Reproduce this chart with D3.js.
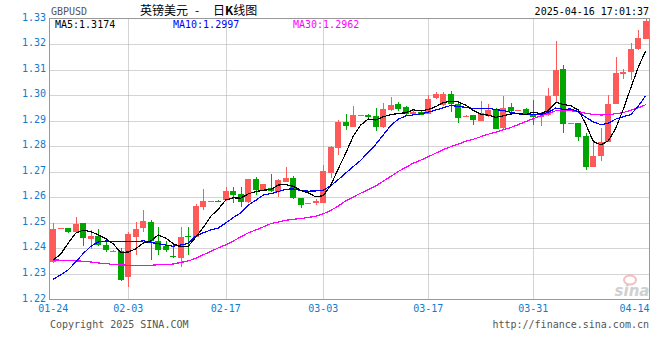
<!DOCTYPE html>
<html>
<head>
<meta charset="utf-8">
<script src="https://cdn.jsdelivr.net/npm/d3@7"></script>
<style>
  body { margin: 0; background: #fff; }
  svg text { font-family: "DejaVu Sans Mono", "Liberation Mono", monospace; font-size: 10px; }
</style>
</head>
<body>
<div id="chart"></div>
<script>
// daily OHLC, 01-24 .. 04-16
var opens = [1.2348,1.2478,1.2480,1.2464,1.2498,1.2438,1.2449,1.2414,1.2390,1.2389,
  1.2290,1.2446,1.2479,1.2505,1.2429,1.2409,1.2370,1.2364,1.2447,1.2446,
  1.2562,1.2585,1.2587,1.2589,1.2626,1.2612,1.2583,1.2670,1.2629,1.2635,
  1.2622,1.2661,1.2674,1.2598,1.2576,1.2577,1.2579,1.2696,1.2793,1.2895,
  1.2876,1.2920,1.2921,1.2919,1.2876,1.2941,1.2965,1.2952,1.2928,1.2934,
  1.2928,1.2987,1.2961,1.3004,1.2967,1.2919,1.2921,1.2900,1.2918,1.2944,
  1.2870,1.2954,1.2939,1.2944,1.2928,1.2916,1.2921,1.2996,1.3104,1.2888,
  1.2889,1.2839,1.2720,1.2761,1.2817,1.2967,1.3082,1.3091,1.3182,1.3221];
var highs = [1.2501,1.2480,1.2481,1.2523,1.2499,1.2472,1.2477,1.2440,1.2392,1.2401,
  1.2466,1.2502,1.2549,1.2512,1.2485,1.2429,1.2419,1.2482,1.2485,1.2573,
  1.2631,1.2587,1.2591,1.2640,1.2639,1.2641,1.2673,1.2678,1.2654,1.2691,
  1.2671,1.2720,1.2683,1.2599,1.2578,1.2593,1.2726,1.2800,1.2902,1.2928,
  1.2957,1.2922,1.2925,1.2950,1.2970,1.2993,1.2973,1.2958,1.2941,1.2937,
  1.3002,1.3012,1.3012,1.3016,1.2972,1.2921,1.2923,1.2977,1.2967,1.2950,
  1.2996,1.2970,1.2941,1.2948,1.2980,1.2934,1.3026,1.3211,1.3117,1.2890,
  1.2890,1.2850,1.2817,1.2870,1.3000,1.3149,1.3104,1.3204,1.3254,1.3300];
var lows = [1.2343,1.2477,1.2462,1.2463,1.2411,1.2398,1.2410,1.2384,1.2389,1.2271,
  1.2247,1.2375,1.2466,1.2355,1.2375,1.2386,1.2364,1.2329,1.2375,1.2443,
  1.2550,1.2584,1.2581,1.2586,1.2579,1.2563,1.2578,1.2609,1.2627,1.2619,
  1.2602,1.2660,1.2593,1.2558,1.2575,1.2570,1.2576,1.2677,1.2765,1.2863,
  1.2875,1.2919,1.2910,1.2859,1.2873,1.2937,1.2937,1.2921,1.2921,1.2921,
  1.2925,1.2986,1.2957,1.2934,1.2889,1.2918,1.2885,1.2898,1.2914,1.2866,
  1.2867,1.2933,1.2938,1.2922,1.2882,1.2878,1.2918,1.2970,1.2852,1.2887,
  1.2821,1.2707,1.2718,1.2742,1.2816,1.2964,1.3065,1.3061,1.3175,1.3218];
var closes = [1.2476,1.2479,1.2466,1.2496,1.2440,1.2449,1.2414,1.2393,1.2391,1.2275,
  1.2457,1.2476,1.2507,1.2429,1.2394,1.2395,1.2366,1.2446,1.2444,1.2567,
  1.2586,1.2586,1.2585,1.2624,1.2609,1.2580,1.2670,1.2629,1.2651,1.2623,
  1.2668,1.2677,1.2597,1.2570,1.2577,1.2586,1.2703,1.2798,1.2895,1.2880,
  1.2921,1.2921,1.2915,1.2875,1.2945,1.2961,1.2945,1.2928,1.2934,1.2924,
  1.2986,1.3004,1.3004,1.2964,1.2911,1.2920,1.2902,1.2932,1.2943,1.2869,
  1.2950,1.2937,1.2940,1.2926,1.2915,1.2920,1.2997,1.3100,1.2887,1.2889,
  1.2837,1.2720,1.2763,1.2818,1.2966,1.3085,1.3090,1.3180,1.3225,1.3290];

// moving-average values before the window is full
var ma5Head = [1.2355,1.2378,1.2421,1.2460];
var ma10Head = [1.2279,1.2297,1.2316,1.2347,1.2380,1.2408,1.2425,1.2429,1.2427];
var ma30Head = [1.2355,1.2354,1.2352,1.2351,1.2350,1.2347,1.2343,1.2341,1.2337,1.2336,
  1.2334,1.2334,1.2334,1.2334,1.2336,1.2337,1.2339,1.2345,1.2351,1.2361,
  1.2375,1.2388,1.2402,1.2414,1.2429,1.2445,1.2461,1.2472,1.2484];

var tickLabels = ["01-24","02-03","02-17","03-03","03-17","03-31","04-14"];
var tickIndex = [0,10,23,36,50,64,78];
var yTicks = [1.22,1.23,1.24,1.25,1.26,1.27,1.28,1.29,1.30,1.31,1.32,1.33];

var W = 660, H = 360;
var plotL = 49.5, plotR = 649.5, plotT = 18.5, plotB = 299.5;
var n = closes.length;
var upColor = "#ff5a5a", downColor = "#00a600";

function movingAvg(len, head){
  return closes.map(function(c, i){
    if(i < len - 1) return head[i];
    return d3.mean(closes.slice(i - len + 1, i + 1));
  });
}
var ma5 = movingAvg(5, ma5Head);
var ma10 = movingAvg(10, ma10Head);
var ma30 = movingAvg(30, ma30Head);

var svg = d3.select("#chart").append("svg")
  .attr("width", W).attr("height", H);

var x = d3.scaleBand().domain(d3.range(n)).range([plotL, plotR])
  .paddingInner(0.2).paddingOuter(0.1);
var y = d3.scaleLinear().domain([1.22, 1.33]).range([plotB, plotT]);

// grid
var grid = svg.append("g").attr("stroke", "#a8a8a8").attr("stroke-dasharray", "1,1");
grid.selectAll("line.h").data(yTicks.slice(1, -1)).enter().append("line")
  .attr("x1", plotL).attr("x2", plotR)
  .attr("y1", function(d){ return Math.round(y(d)) + 0.5; })
  .attr("y2", function(d){ return Math.round(y(d)) + 0.5; });
grid.selectAll("line.v").data(tickIndex.slice(1, -1)).enter().append("line")
  .attr("y1", plotT).attr("y2", plotB)
  .attr("x1", function(d){ return Math.round(x(d) + x.bandwidth()/2) + 0.5; })
  .attr("x2", function(d){ return Math.round(x(d) + x.bandwidth()/2) + 0.5; });

// frame
svg.append("rect").attr("x", plotL).attr("y", plotT)
  .attr("width", plotR - plotL).attr("height", plotB - plotT)
  .attr("fill", "none").attr("stroke", "#999");

// sina mark
var logo = svg.append("g").attr("opacity", 0.55);
logo.append("ellipse").attr("cx", 630).attr("cy", 280).attr("rx", 6).attr("ry", 4.5)
  .attr("fill", "none").attr("stroke", "#f08a8a").attr("stroke-width", 2);
logo.append("text").attr("x", 632).attr("y", 296).attr("text-anchor", "middle")
  .style("font-family", "DejaVu Sans").style("font-size", "15px")
  .style("font-style", "italic").style("font-weight", "bold")
  .attr("fill", "#aaa").text("sina");

// candles
var candles = svg.append("g").selectAll("g").data(closes).enter().append("g")
  .attr("fill", function(c, i){ return c >= opens[i] ? upColor : downColor; });
candles.append("rect")
  .attr("x", function(c, i){ return Math.round(x(i)) + 3; })
  .attr("width", 1)
  .attr("y", function(c, i){ return Math.round(y(highs[i])); })
  .attr("height", function(c, i){ return Math.max(1, Math.round(y(lows[i])) - Math.round(y(highs[i]))); });
candles.append("rect")
  .attr("x", function(c, i){ return Math.round(x(i)); })
  .attr("width", 6)
  .attr("y", function(c, i){ return Math.round(y(Math.max(c, opens[i]))); })
  .attr("height", function(c, i){
    return Math.max(1, Math.round(y(Math.min(c, opens[i]))) - Math.round(y(Math.max(c, opens[i]))));
  });

// moving averages
var line = d3.line()
  .x(function(d, i){ return x(i) + x.bandwidth()/2; })
  .y(function(d){ return y(d); });
[[ma30, "#ff00ff"], [ma10, "#0000ff"], [ma5, "#000"]].forEach(function(s){
  svg.append("path").datum(s[0]).attr("d", line)
    .attr("fill", "none").attr("stroke", s[1]).attr("stroke-width", 1.2)
    .attr("shape-rendering", "crispEdges");
});

// y axis labels
svg.append("g").selectAll("text").data(yTicks).enter().append("text")
  .attr("x", 46).attr("y", function(d){ return y(d) + 2; })
  .attr("text-anchor", "end").attr("fill", "#0e7ccf")
  .text(function(d){ return d.toFixed(2); });

// x axis labels
svg.append("g").selectAll("text").data(tickIndex).enter().append("text")
  .attr("x", function(d){ return Math.min(x(d) + x.bandwidth()/2, plotR - 15); })
  .attr("y", 312).attr("text-anchor", "middle").attr("fill", "#0e7ccf")
  .text(function(d, i){ return tickLabels[i]; });

// header
svg.append("text").attr("x", 51).attr("y", 15).attr("fill", "#555").text("GBPUSD");
var title = svg.append("text").attr("y", 15).attr("fill", "#000")
  .style("font-family", "'Noto Sans CJK SC', sans-serif").style("font-size", "12px");
title.append("tspan").attr("x", 140).text("英镑美元");
title.append("tspan").attr("x", 195).text("-");
title.append("tspan").attr("x", 213).text("日");
title.append("tspan").style("font-weight", "bold").text("K");
title.append("tspan").text("线图");
svg.append("text").attr("x", 649).attr("y", 15).attr("text-anchor", "end")
  .attr("fill", "#000").text("2025-04-16 17:01:37");

// MA legend
var legend = [["MA5:", ma5, "#000", 55], ["MA10:", ma10, "#0000ff", 173], ["MA30:", ma30, "#ff00ff", 293]];
svg.append("g").selectAll("text").data(legend).enter().append("text")
  .attr("x", function(d){ return d[3]; }).attr("y", 28)
  .attr("fill", function(d){ return d[2]; })
  .text(function(d){ return d[0] + d[1][n - 1].toFixed(4); });

// footer
svg.append("text").attr("x", 50).attr("y", 328).attr("fill", "#555").text("Copyright 2025 SINA.COM");
svg.append("text").attr("x", 649).attr("y", 328).attr("text-anchor", "end")
  .attr("fill", "#555").text("http://finance.sina.com.cn");
</script>
</body>
</html>
